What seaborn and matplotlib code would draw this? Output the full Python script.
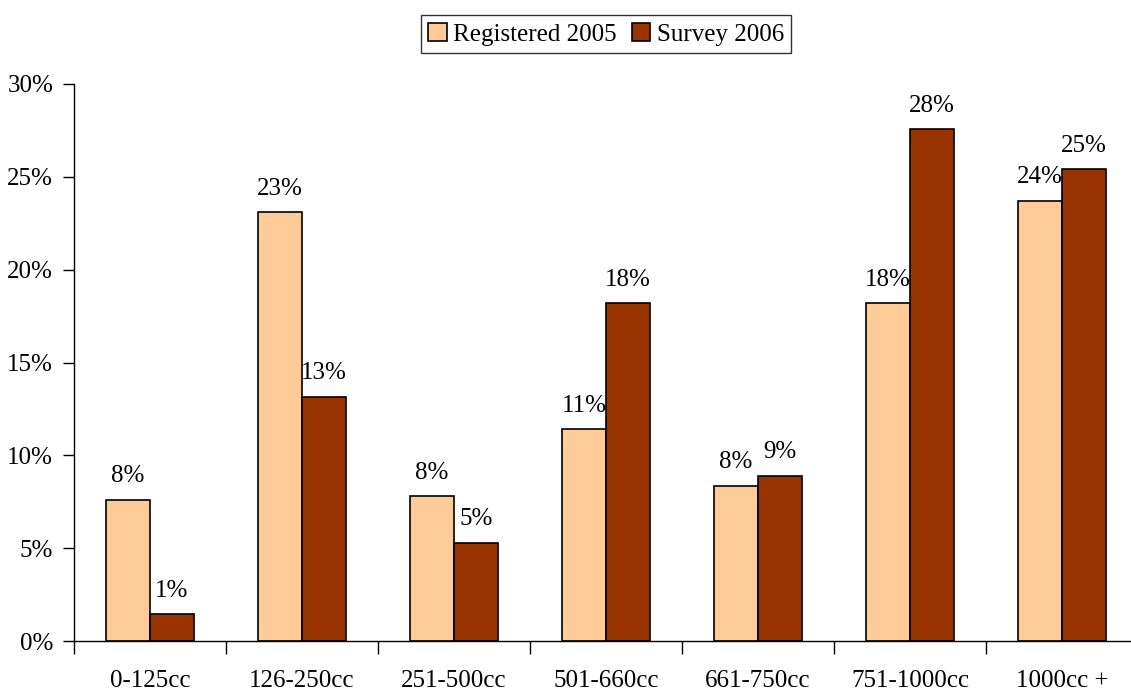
import matplotlib
matplotlib.use("Agg")
import matplotlib.pyplot as plt
import seaborn as sns
import pandas as pd
from matplotlib.ticker import FuncFormatter

# Engine size categories and share of motorcycles (%)
categories = ["0-125cc", "126-250cc", "251-500cc", "501-660cc", "661-750cc", "751-1000cc", "1000cc +"]
registered_2005 = [7.6, 23.1, 7.8, 11.4, 8.35, 18.2, 23.7]
survey_2006 = [1.45, 13.15, 5.3, 18.2, 8.9, 27.55, 25.4]
series_names = ["Registered 2005", "Survey 2006"]
y_ticks = [0, 5, 10, 15, 20, 25, 30]

df = pd.DataFrame({
    "category": categories * 2,
    "share": registered_2005 + survey_2006,
    "series": [series_names[0]] * len(categories) + [series_names[1]] * len(categories),
})

sns.set_style("white")
plt.rcParams["font.family"] = ["Liberation Serif", "DejaVu Serif"]
plt.rcParams["text.color"] = "black"
plt.rcParams["xtick.color"] = "black"
plt.rcParams["ytick.color"] = "black"

FS = 18

fig = plt.figure(figsize=(11.31, 6.91), dpi=100)
ax = fig.add_axes([74 / 1131, 50 / 691, 1064 / 1131, 557 / 691])

sns.barplot(data=df, x="category", y="share", hue="series", order=categories,
            hue_order=series_names, palette=["#FFCC99", "#993300"],
            width=0.575, gap=0, edgecolor="black", linewidth=1.2,
            saturation=1, ax=ax, legend=True)

for container in ax.containers:
    ax.bar_label(container, labels=[f"{v.get_height():.0f}%" for v in container],
                 padding=9, fontsize=FS, color="black")

ax.set_ylim(0, 30)
ax.set_xlim(-0.5, 6.5)
ax.set_yticks(y_ticks)
ax.yaxis.set_major_formatter(FuncFormatter(lambda v, _: f"{v:.0f}%"))
ax.set_xticks([i + 0.5 for i in range(-1, 7)], minor=True)
ax.tick_params(axis="x", which="major", bottom=True, length=0, pad=21, labelsize=FS,
               labelcolor="black")
ax.tick_params(axis="x", which="minor", bottom=True, length=9, width=1, color="black",
               direction="out")
ax.tick_params(axis="y", which="major", left=True, length=8, width=1, color="black",
               direction="out", labelsize=FS, pad=7, labelcolor="black")
ax.set_xlabel("")
ax.set_ylabel("")

for side in ["top", "right"]:
    ax.spines[side].set_visible(False)
for side in ["left", "bottom"]:
    ax.spines[side].set_color("black")
    ax.spines[side].set_linewidth(1)

leg = ax.legend(loc="lower center", bbox_to_anchor=(0.5, 1.055), ncol=2, frameon=True,
                fontsize=FS, fancybox=False, edgecolor="black", handlelength=0.75,
                handleheight=0.75, handletextpad=0.25, columnspacing=0.6, borderpad=0.3,
                borderaxespad=0)
leg.get_frame().set_linewidth(1)
for t in leg.get_texts():
    t.set_color("black")

fig.savefig("out.png", dpi=100)
